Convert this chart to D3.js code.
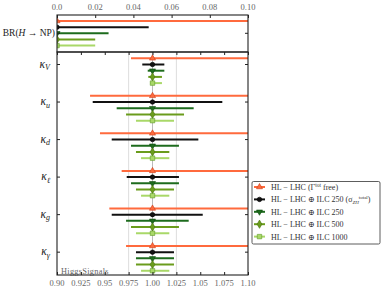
<!DOCTYPE html>
<html>
<head>
<meta charset="utf-8">
<script src="https://cdn.jsdelivr.net/npm/d3@7"></script>
<style>
  body { margin: 0; background: #fff; }
  text { font-family: "Liberation Serif", "DejaVu Serif", serif; }
</style>
</head>
<body>
<script>
const width = 382;
const height = 300;

// data
const kappas = ["V", "u", "d", "ℓ", "g", "γ"];
const scenarios = ["orange", "black", "dkgreen", "green", "light"];
const brUpper = [0.12, 0.048, 0.027, 0.020, 0.020];
const kLow = {
	orange:  [0.9775, 0.9346, 0.9450, 0.9677, 0.9548, 0.9723],
	black:   [0.9893, 0.9374, 0.9573, 0.9730, 0.9573, 0.9827],
	dkgreen: [0.9950, 0.9625, 0.9775, 0.9775, 0.9723, 0.9827],
	green:   [0.9956, 0.9723, 0.9827, 0.9827, 0.9775, 0.9827],
	light:   [0.9974, 0.9827, 0.9880, 0.9880, 0.9827, 0.9880]
};
const kHigh = {
	orange:  [1.12, 1.12, 1.12, 1.12, 1.12, 1.12],
	black:   [1.0124, 1.0731, 1.0480, 1.0277, 1.0526, 1.0225],
	dkgreen: [1.0124, 1.0431, 1.0277, 1.0277, 1.0379, 1.0225],
	green:   [1.0099, 1.0330, 1.0176, 1.0225, 1.0277, 1.0225],
	light:   [1.0099, 1.0225, 1.0176, 1.0176, 1.0176, 1.0176]
};
const brTicks = [0, 0.02, 0.04, 0.06, 0.08, 0.10];
const brTickLabels = ["0.0", "0.02", "0.04", "0.06", "0.08", "0.10"];
const kTicks = [0.9, 0.925, 0.95, 0.975, 1.0, 1.025, 1.05, 1.075, 1.1];
const kTickLabels = ["0.90", "0.925", "0.95", "0.975", "1.00", "1.025", "1.05", "1.075", "1.10"];
const legendLabels = ["HL − LHC (Γ", "HL − LHC ⊕ ILC 250 (σ", "HL − LHC ⊕ ILC 250", "HL − LHC ⊕ ILC 500", "HL − LHC ⊕ ILC 1000"];

const colors = { orange: "#ff6a3d", black: "#111", dkgreen: "#1d6b1d", green: "#6a9c1c", light: "#a9d868" };
const strokes = { orange: "#c8401c", black: "#000", dkgreen: "#0e4a0e", green: "#46700c", light: "#5f9a2a" };
const shapes = { orange: d3.symbolTriangle, black: d3.symbolCircle, dkgreen: d3.symbolTriangle, green: d3.symbolDiamond, light: d3.symbolSquare };
const sizes = { orange: 16, black: 16, dkgreen: 16, green: 20, light: 20 };

const x0 = 57, x1 = 248;
const topY0 = 15, topY1 = 52, botY1 = 275;

const svg = d3.select("body").append("svg")
	.attr("width", width)
	.attr("height", height);

const xBR = d3.scaleLinear().domain([0, 0.1]).range([x0, x1]);
const xK = d3.scaleLinear().domain([0.9, 1.1]).range([x0, x1]);
const yBR = d3.scalePoint().domain(scenarios).range([21, 45.6]);
const yGroup = d3.scaleBand().domain(kappas).range([52, 277.2]);
const yRow = d3.scalePoint().domain(scenarios).range([6.3, 31.1]);

svg.append("clipPath").attr("id", "clipTop")
	.append("rect").attr("x", x0).attr("y", topY0).attr("width", x1 - x0).attr("height", topY1 - topY0);
svg.append("clipPath").attr("id", "clipBot")
	.append("rect").attr("x", x0).attr("y", topY1).attr("width", x1 - x0).attr("height", botY1 - topY1);

// grid lines in lower panel
svg.selectAll(".grid")
	.data([0.975, 1.0, 1.025])
	.enter().append("line")
	.attr("x1", d => xK(d)).attr("x2", d => xK(d))
	.attr("y1", topY1).attr("y2", botY1)
	.attr("stroke", d => d == 1.0 ? "#bbb" : "#ddd")
	.attr("stroke-width", 1);

function marker(g, s, x, y) {
	g.append("path")
		.attr("d", d3.symbol().type(shapes[s]).size(sizes[s]))
		.attr("transform", "translate(" + x + "," + y + ")" + (s == "dkgreen" ? " rotate(180)" : ""))
		.attr("fill", colors[s])
		.attr("stroke", strokes[s])
		.attr("stroke-width", 0.6);
}

// HiggsSignals watermark (under the bars)
svg.append("text")
	.attr("x", 61).attr("y", 274)
	.attr("font-family", "DejaVu Sans Mono, monospace")
	.attr("font-size", 8.3)
	.attr("letter-spacing", 0.3)
	.attr("fill", "#666")
	.text("HiggsSignals");

// top panel bars
const gTop = svg.append("g").attr("clip-path", "url(#clipTop)");
scenarios.forEach(function (s, i) {
	gTop.append("line")
		.attr("x1", xBR(0)).attr("x2", xBR(brUpper[i]))
		.attr("y1", yBR(s)).attr("y2", yBR(s))
		.attr("stroke", colors[s]).attr("stroke-width", 2);
	marker(gTop, s, xBR(0), yBR(s));
});

// lower panel bars
const gBot = svg.append("g").attr("clip-path", "url(#clipBot)");
kappas.forEach(function (k, j) {
	scenarios.forEach(function (s) {
		const y = yGroup(k) + yRow(s);
		gBot.append("line")
			.attr("x1", xK(kLow[s][j])).attr("x2", xK(kHigh[s][j]))
			.attr("y1", y).attr("y2", y)
			.attr("stroke", colors[s]).attr("stroke-width", 2);
		marker(gBot, s, xK(1.0), y);
	});
});

// frames
svg.append("rect").attr("x", x0).attr("y", topY0).attr("width", x1 - x0).attr("height", topY1 - topY0)
	.attr("fill", "none").attr("stroke", "#222").attr("stroke-width", 1.1);
svg.append("rect").attr("x", x0).attr("y", topY1).attr("width", x1 - x0).attr("height", botY1 - topY1)
	.attr("fill", "none").attr("stroke", "#222").attr("stroke-width", 1.1);

// top axis (ticks inward)
const axTop = svg.append("g").attr("transform", "translate(0," + topY0 + ")")
	.call(d3.axisBottom(xBR).tickValues(brTicks).tickSize(3).tickFormat(""));
axTop.select(".domain").remove();
axTop.selectAll("line").attr("stroke", "#222");
svg.selectAll(".brlab")
	.data(brTicks)
	.enter().append("text")
	.attr("x", d => xBR(d)).attr("y", 10)
	.attr("text-anchor", "middle")
	.attr("font-size", 8.5).attr("fill", "#666")
	.text((d, i) => brTickLabels[i]);

// lower panel top and bottom ticks
const axMid = svg.append("g").attr("transform", "translate(0," + topY1 + ")")
	.call(d3.axisBottom(xK).tickValues(kTicks).tickSize(3).tickFormat(""));
axMid.select(".domain").remove();
axMid.selectAll("line").attr("stroke", "#222");
const axBot = svg.append("g").attr("transform", "translate(0," + botY1 + ")")
	.call(d3.axisTop(xK).tickValues(kTicks).tickSize(3).tickFormat(""));
axBot.select(".domain").remove();
axBot.selectAll("line").attr("stroke", "#222");
svg.selectAll(".klab")
	.data(kTicks)
	.enter().append("text")
	.attr("x", d => xK(d)).attr("y", 286)
	.attr("text-anchor", "middle")
	.attr("font-size", 8.5).attr("fill", "#666")
	.text((d, i) => kTickLabels[i]);

// left/right ticks for kappa groups
kappas.forEach(function (k) {
	const y = yGroup(k) + yRow("black");
	svg.append("line").attr("x1", x0).attr("x2", x0 + 3).attr("y1", y).attr("y2", y).attr("stroke", "#222");
	svg.append("line").attr("x1", x1 - 3).attr("x2", x1).attr("y1", y).attr("y2", y).attr("stroke", "#222");
	const t = svg.append("text")
		.attr("x", 50).attr("y", y + 3)
		.attr("text-anchor", "end")
		.attr("font-size", 11.5).attr("font-style", "italic").attr("fill", "#222");
	t.append("tspan").text("κ");
	t.append("tspan").attr("font-size", 8).attr("dy", 2.5).text(k);
});
const yMidTop = yBR("dkgreen");
svg.append("line").attr("x1", x0).attr("x2", x0 + 3).attr("y1", yMidTop).attr("y2", yMidTop).attr("stroke", "#222");
svg.append("line").attr("x1", x1 - 3).attr("x2", x1).attr("y1", yMidTop).attr("y2", yMidTop).attr("stroke", "#222");

// BR label
const br = svg.append("text")
	.attr("x", 55).attr("y", yMidTop + 3)
	.attr("text-anchor", "end")
	.attr("font-size", 9.5).attr("fill", "#222");
br.append("tspan").text("BR(");
br.append("tspan").attr("font-style", "italic").text("H");
br.append("tspan").text(" → NP)");

// legend
const leg = svg.append("g");
leg.append("rect").attr("x", 252).attr("y", 181.5).attr("width", 128).attr("height", 62.5)
	.attr("fill", "#fff").attr("stroke", "#333").attr("stroke-width", 0.8).attr("rx", 1.5);
scenarios.forEach(function (s, i) {
	const y = 187 + i * 12.4;
	leg.append("line").attr("x1", 254).attr("x2", 265).attr("y1", y).attr("y2", y)
		.attr("stroke", colors[s]).attr("stroke-width", 2);
	marker(leg, s, 259.5, y);
	const t = leg.append("text")
		.attr("x", 271).attr("y", y + 3)
		.attr("font-size", 8).attr("fill", "#333");
	t.append("tspan").text(legendLabels[i]);
	if (i == 0) {
		t.append("tspan").attr("font-size", 5.5).attr("dy", -3).text("tot");
		t.append("tspan").attr("dy", 3).text(" free)");
	}
	if (i == 1) {
		t.append("tspan").attr("font-size", 5).attr("font-style", "italic").attr("dy", 1.8).text("ZH");
		t.append("tspan").attr("font-size", 5).attr("dy", -5.2).text("total");
		t.append("tspan").attr("dy", 3.4).text(")");
	}
});
</script>
</body>
</html>
